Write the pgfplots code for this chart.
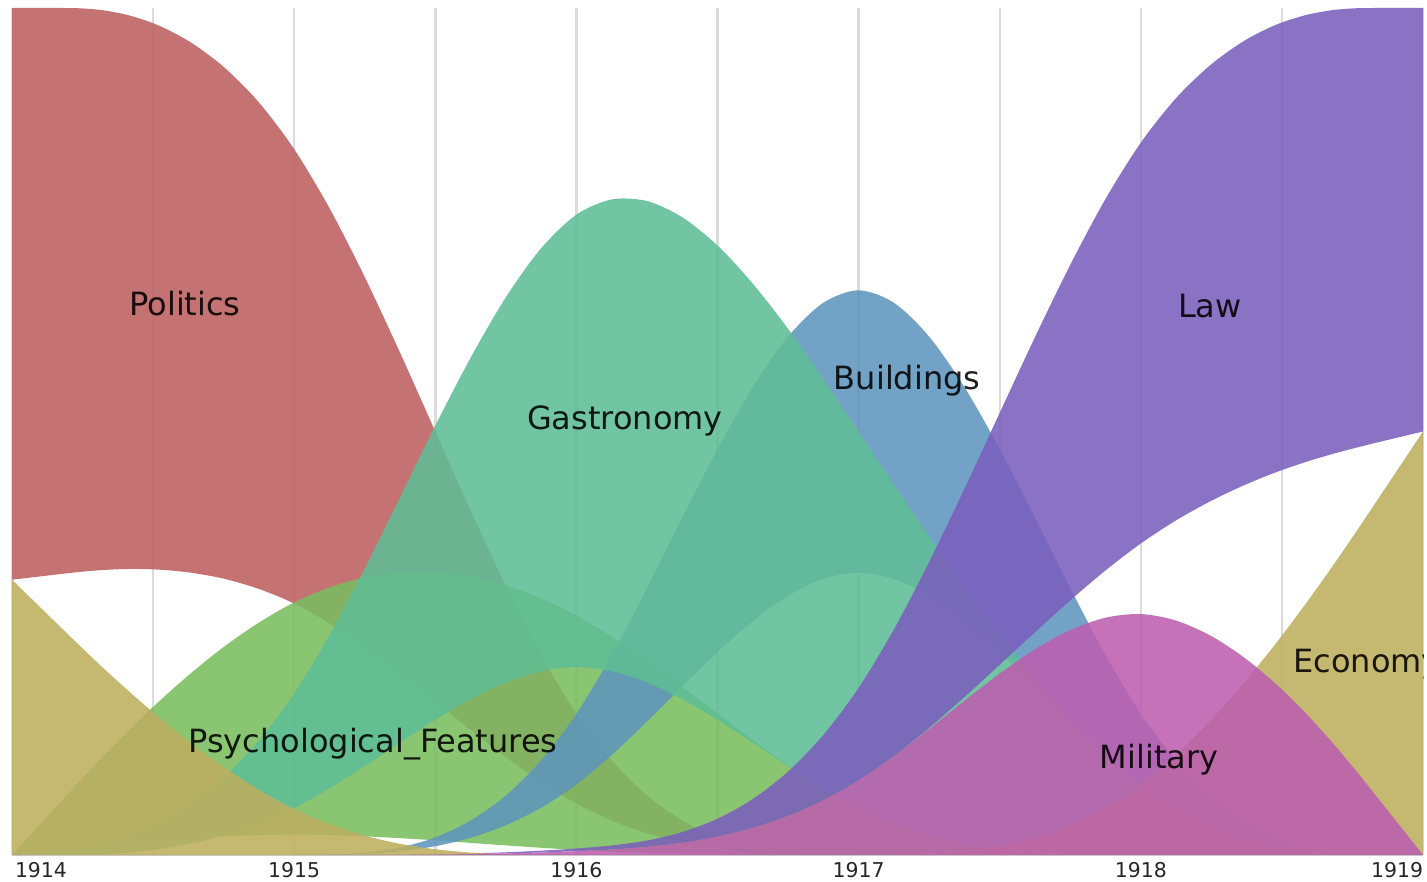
\documentclass[border=0pt]{standalone}
\usepackage{fontspec}
\setmainfont{DejaVu Sans}
\usepackage{pgfplots}
\usepackage{pgfplotstable}
\pgfplotsset{compat=1.18}
\usepgfplotslibrary{fillbetween}

\definecolor{cPol}{RGB}{189,95,95}
\definecolor{cEco}{RGB}{189,175,95}
\definecolor{cPsy}{RGB}{122,189,95}
\definecolor{cGas}{RGB}{95,189,149}
\definecolor{cBui}{RGB}{95,149,189}
\definecolor{cLaw}{RGB}{122,95,189}
\definecolor{cMil}{RGB}{189,95,175}

% edges of the bands (share of the year), read along each edge
\pgfplotstableread{
x         E      PL     PU     SL     SU     GL     GU     BL     BU     LL     LU     MU
1914      0.325  0.325  1      0      0      0      0      0      0      0      0      0
1914.1667 0.2708 0.3315 1      0.0060 0.0607 0      0.0060 0      0      0      0      0
1914.2367 0.2482 0.3341 0.9997 0.0085 0.0860 0.0001 0.0088 0      0      0      0      0
1914.3203 0.2217 0.3364 0.9974 0.0113 0.1156 0.0009 0.0139 0      0      0      0      0
1914.4157 0.1928 0.3377 0.9912 0.0143 0.1478 0.0029 0.0231 0      0      0      0      0
1914.5208 0.1625 0.3369 0.9792 0.0173 0.1813 0.0069 0.0381 0      0      0      0      0
1914.6338 0.1322 0.3333 0.9593 0.0199 0.2146 0.0135 0.0606 0      0      0      0      0
1914.7526 0.1033 0.3261 0.9297 0.0220 0.2462 0.0234 0.0923 0      0      0      0      0
1914.8753 0.0768 0.3141 0.8884 0.0235 0.2745 0.0372 0.1352 0      0      0      0      0
1915      0.0542 0.2969 0.8333 0.0240 0.2982 0.0555 0.1907 0      0      0      0      0
1915.125  0.0363 0.2736 0.7637 0.0235 0.3159 0.0786 0.2597 0.0002 0.0003 0      0      0
1915.25   0.0229 0.2457 0.6823 0.0220 0.3277 0.1049 0.3384 0.0013 0.0026 0.0001 0.0001 0.0001
1915.375  0.0132 0.2143 0.5931 0.0199 0.3337 0.1326 0.4224 0.0044 0.0088 0.0002 0.0004 0.0002
1915.5    0.0068 0.1812 0.5    0.0173 0.3340 0.1596 0.5069 0.0104 0.0208 0.0006 0.0010 0.0006
1915.625  0.0029 0.1478 0.4069 0.0143 0.3289 0.1840 0.5870 0.0203 0.0407 0.0011 0.0019 0.0011
1915.75   0.0008 0.1155 0.3177 0.0113 0.3185 0.2038 0.6585 0.0352 0.0703 0.0019 0.0032 0.0019
1915.875  0.0001 0.0860 0.2363 0.0085 0.3030 0.2171 0.7163 0.0558 0.1117 0.0030 0.0051 0.0030
1916      0      0.0607 0.1667 0.0060 0.2827 0.2220 0.7560 0.0833 0.1667 0.0045 0.0077 0.0045
1916.125  0      0.0406 0.1117 0.0040 0.2577 0.2171 0.7740 0.1180 0.2360 0.0065 0.0112 0.0065
1916.25   0      0.0256 0.0703 0.0025 0.2294 0.2038 0.7721 0.1576 0.3151 0.0096 0.0171 0.0096
1916.375  0      0.0148 0.0407 0.0015 0.1988 0.1840 0.7530 0.1991 0.3981 0.0144 0.0271 0.0144
1916.5    0      0.0076 0.0208 0.0008 0.1672 0.1596 0.7196 0.2396 0.4792 0.0216 0.0428 0.0216
1916.625  0      0.0032 0.0088 0.0003 0.1358 0.1326 0.6746 0.2762 0.5524 0.0320 0.0661 0.0320
1916.75   0      0.0009 0.0026 0.0001 0.1058 0.1049 0.6212 0.3060 0.6120 0.0460 0.0985 0.0460
1916.875  0      0.0001 0.0003 0      0.0787 0.0786 0.5620 0.3260 0.6520 0.0645 0.1417 0.0645
1917      0      0      0      0      0.0555 0.0555 0.5    0.3333 0.6667 0.0880 0.1973 0.0880
1917.125  0.0002 0      0      0      0.0372 0.0372 0.4377 0.3260 0.6520 0.1169 0.2663 0.1167
1917.25   0.0013 0      0      0      0.0234 0.0234 0.3763 0.3060 0.6120 0.1501 0.3459 0.1488
1917.375  0.0044 0      0      0      0.0135 0.0135 0.3169 0.2762 0.5524 0.1865 0.4323 0.1821
1917.5    0.0104 0      0      0      0.0069 0.0069 0.2604 0.2396 0.4792 0.2246 0.5220 0.2142
1917.625  0.0203 0      0      0      0.0029 0.0029 0.2079 0.1991 0.3981 0.2630 0.6114 0.2427
1917.75   0.0352 0      0      0      0.0009 0.0009 0.1602 0.1576 0.3151 0.3007 0.6968 0.2655
1917.875  0.0558 0      0      0      0.0001 0.0001 0.1183 0.1180 0.2360 0.3360 0.7746 0.2802
1918      0.0833 0      0      0      0      0      0.0833 0.0833 0.1667 0.3678 0.8410 0.2845
1918.1247 0.1182 0      0      0      0      0      0.0558 0.0558 0.1117 0.3950 0.8935 0.2768
1918.2474 0.1589 0      0      0      0      0      0.0352 0.0352 0.0703 0.4178 0.9329 0.2589
1918.3662 0.2035 0      0      0      0      0      0.0203 0.0203 0.0407 0.4366 0.9612 0.2331
1918.4792 0.25   0      0      0      0      0      0.0104 0.0104 0.0208 0.4519 0.9802 0.2019
1918.5843 0.2966 0      0      0      0      0      0.0044 0.0044 0.0088 0.4640 0.9916 0.1674
1918.6797 0.3411 0      0      0      0      0      0.0013 0.0013 0.0026 0.4735 0.9975 0.1324
1918.7633 0.3818 0      0      0      0      0      0.0002 0.0002 0.0003 0.4809 0.9997 0.0991
1918.8333 0.4167 0      0      0      0      0      0      0      0      0.4867 1      0.0700
1919      0.5    0      0      0      0      0      0      0      0      0.5    1      0
}\bands

\begin{document}
\begin{tikzpicture}
\begin{axis}[
  scale only axis,
  width=705.5bp, height=423.5bp,
  xmin=1914, xmax=1919, ymin=0, ymax=1,
  axis y line=none,
  axis x line*=bottom,
  x axis line style={draw=black!22, line width=1bp},
  xtick={1914,1915,1916,1917,1918,1919},
  xticklabels={\makebox[0pt][l]{\hspace{1.5bp}1914},1915,1916,1917,1918,\makebox[0pt][r]{1919}},
  minor xtick={1914.5,1915.5,1916.5,1917.5,1918.5},
  xmajorgrids, xminorgrids,
  major grid style={draw=black!14, line width=1.2bp},
  minor grid style={draw=black!14, line width=1.2bp},
  major tick length=0pt, minor tick length=0pt,
  xticklabel style={font=\fontsize{10.2bp}{12bp}\selectfont, text=black!85, inner sep=0pt, anchor=north, yshift=-3.5bp},
]
% edges (invisible)
\addplot[name path=PU, draw=none, smooth, forget plot] table[x=x,y=PU]{\bands};
\addplot[name path=PL, draw=none, smooth, forget plot] table[x=x,y=PL]{\bands};
\addplot[name path=SU, draw=none, smooth, forget plot] table[x=x,y=SU]{\bands};
\addplot[name path=SL, draw=none, smooth, forget plot] table[x=x,y=SL]{\bands};
\addplot[name path=GU, draw=none, smooth, forget plot] table[x=x,y=GU]{\bands};
\addplot[name path=GL, draw=none, smooth, forget plot] table[x=x,y=GL]{\bands};
\addplot[name path=BU, draw=none, smooth, forget plot] table[x=x,y=BU]{\bands};
\addplot[name path=BL, draw=none, smooth, forget plot] table[x=x,y=BL]{\bands};
\addplot[name path=LU, draw=none, smooth, forget plot] table[x=x,y=LU]{\bands};
\addplot[name path=LL, draw=none, smooth, forget plot] table[x=x,y=LL]{\bands};

% Economy
\addplot[fill=cEco, fill opacity=0.88, draw=none, smooth] table[x=x,y=E]{\bands} \closedcycle;
% Politics
\addplot[fill=cPol, fill opacity=0.88, draw=none] fill between[of=PU and PL];
% Psychological_Features
\addplot[fill=cPsy, fill opacity=0.88, draw=none] fill between[of=SU and SL];
% Buildings
\addplot[fill=cBui, fill opacity=0.88, draw=none] fill between[of=BU and BL];
% Gastronomy
\addplot[fill=cGas, fill opacity=0.88, draw=none] fill between[of=GU and GL];
% Law
\addplot[fill=cLaw, fill opacity=0.88, draw=none] fill between[of=LU and LL];
% Military
\addplot[fill=cMil, fill opacity=0.88, draw=none, smooth] table[x=x,y=MU]{\bands} \closedcycle;

\begin{scope}[every node/.style={font=\fontsize{16bp}{19bp}\selectfont, text=black, text opacity=0.88, inner sep=0pt}]
\node[anchor=base] at (axis cs:1914.613,0.6364) {Politics};
\node[anchor=base] at (axis cs:1916.172,0.5018) {Gastronomy};
\node[anchor=base] at (axis cs:1917.172,0.5490) {Buildings};
\node[anchor=base] at (axis cs:1918.245,0.6340) {Law};
\node[anchor=base] at (axis cs:1915.279,0.1216) {Psychological\_Features};
\node[anchor=base] at (axis cs:1918.065,0.1027) {Military};
\node[anchor=base west] at (axis cs:1918.539,0.2160) {Economy};
\end{scope}
\end{axis}
\pgfresetboundingbox
\useasboundingbox (-6bp,-13.5bp) rectangle (707.5bp,427.5bp);
\end{tikzpicture}
\end{document}
